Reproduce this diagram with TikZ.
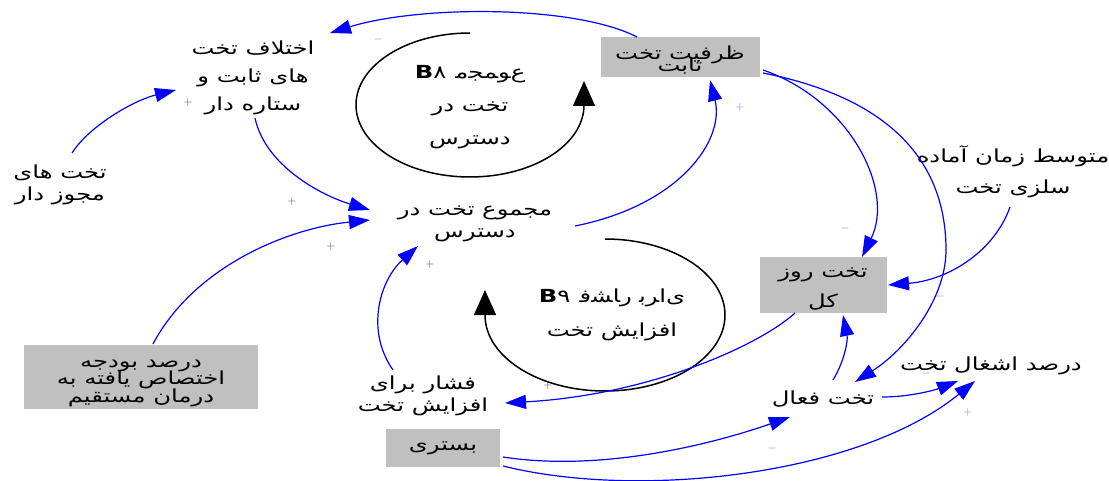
\documentclass[tikz,border=0pt]{standalone}
\usepackage{fontspec}
\usetikzlibrary{arrows.meta}
\newfontfamily\fafont[Script=Arabic, FakeStretch=1.35]{DejaVu Sans}
\TeXXeTstate=1
\lineskiplimit=-30pt
\newcommand{\rl}[1]{\beginR#1\endR}
\newcommand{\zj}{^^^^200d}
\definecolor{boxgray}{RGB}{192,192,192}
\definecolor{polgray}{RGB}{128,128,128}
\definecolor{polblue}{RGB}{120,120,255}

\begin{document}
\begin{tikzpicture}[x=1pt, y=-1pt,
  var/.style={font=\fafont\fontsize{18}{28}\selectfont, align=center, inner sep=0pt},
  gbox/.style={var, fill=boxgray},
  link/.style={blue, line width=1.2pt, -{Triangle[length=21pt, width=14pt]}},
  bigloop/.style={line width=1.5pt, -{Triangle[length=25pt, width=22pt]}},
  pol/.style={font=\fontsize{13}{13}\selectfont, inner sep=0pt}]
\useasboundingbox (0,0) rectangle (1109,481);

% variables
\node[var] (diff) at (253,78) {\rl{اختلاف تخت}\\\rl{های ثابت و}\\\rl{ستاره دار}};
\node[var, font=\fafont\fontsize{18}{22}\selectfont] (lic) at (60,185) {\rl{تخت های}\\\rl{مجوز دار}};
\node[var, font=\fafont\fontsize{18}{22}\selectfont] (total) at (475,224) {\rl{مجموع تخت در}\\\rl{دسترس}};
\node[gbox, minimum width=159pt, minimum height=40pt, text height=32pt, text depth=2pt,
  font=\fafont\fontsize{18}{12}\selectfont] (cap) at (680,57) {\rl{ظرفیت تخت}\\\rl{ثابت}};
\node[var, font=\fafont\fontsize{18}{31}\selectfont] (prep) at (1013,172) {\rl{متوسط زمان آماده}\\\rl{سلزی تخت}};
\node[gbox, minimum width=127pt, minimum height=56pt, text height=48pt, text depth=4pt,
  font=\fafont\fontsize{18}{30}\selectfont] (days) at (823,285) {\rl{تخت روز}\\\rl{کل}};
\node[gbox, minimum width=234pt, minimum height=64pt, text height=54pt, text depth=4pt,
  font=\fafont\fontsize{18}{17.5}\selectfont] (budget) at (141,377) {\rl{درصد بودجه}\\\rl{اختصاص یافته به}\\\rl{درمان مستقیم}};
\node[var, font=\fafont\fontsize{18}{22}\selectfont] (press) at (423,396) {\rl{فشار برای}\\\rl{افزایش تخت}};
\node[gbox, minimum width=114pt, minimum height=38pt] (inpat) at (443,448) {\rl{بستری}};
\node[var] (active) at (823,399) {\rl{تخت فعال}};
\node[var] (occ) at (991,366) {\rl{درصد اشغال تخت}};

% loops
\node[var, font=\fafont\fontsize{18}{33}\selectfont] (b8) at (470,107)
  {\mbox{\bfseries B}\mbox{۸}\hspace{0.5em}\mbox{م\zj}\mbox{\zj ج\zj}\mbox{\zj م\zj}\mbox{\zj و}\mbox{ع}\\\rl{تخت در}\\\rl{دسترس}};
\node[var, font=\fafont\fontsize{18}{34}\selectfont] (b9) at (612,315)
  {\mbox{\bfseries B}\mbox{۹}\hspace{0.5em}\mbox{ف\zj}\mbox{\zj ش\zj}\mbox{\zj ا}\mbox{ر}\hspace{0.4em}\mbox{ب\zj}\mbox{\zj ر}\mbox{ا}\mbox{ی}\\\rl{افزایش تخت}};
\draw[bigloop] (470,33) arc[start angle=90, end angle=360, x radius=114pt, y radius=72pt] -- ++(0,-24);
\draw[bigloop] (605,239) arc[start angle=90, end angle=-180, x radius=120pt, y radius=76pt] -- ++(0,-25);

% links
\draw[link] ([shift={(-43,-20)}]cap.center) .. controls (575,5) and (420,5) .. ([shift={(77,-45)}]diff.center);
\draw[link] ([shift={(12,-32)}]lic.center) .. controls (90,125) and (135,100) .. ([shift={(-77,12)}]diff.center);
\draw[link] ([shift={(2,40)}]diff.center) .. controls (265,165) and (320,195) .. ([shift={(-105,-14)}]total.center);
\draw[link] ([shift={(12,-33)}]budget.center) .. controls (195,265) and (290,228) .. ([shift={(-105,-4)}]total.center);
\draw[link] ([shift={(-30,-26)}]press.center) .. controls (365,330) and (380,280) .. ([shift={(-57,22)}]total.center);
\draw[link] ([shift={(100,2)}]total.center) .. controls (680,205) and (725,140) .. ([shift={(30,23)}]cap.center);
\draw[link] ([shift={(83,13)}]cap.center) .. controls (850,100) and (895,190) .. ([shift={(39,-28)}]days.center);
\draw[link] ([shift={(83,16)}]cap.center) .. controls (900,100) and (946,170) .. (946,250)
  .. controls (946,300) and (905,350) .. ([shift={(32,-17)}]active.center);
\draw[link] ([shift={(-3,35)}]prep.center) .. controls (995,250) and (950,280) .. ([shift={(65,0)}]days.center);
\draw[link] ([shift={(-28,28)}]days.center) .. controls (760,345) and (650,395) .. ([shift={(82,7)}]press.center);
\draw[link] ([shift={(10,-19)}]active.center) .. controls (845,360) and (848,340) .. ([shift={(20,30)}]days.center);
\draw[link] ([shift={(59,-2)}]active.center) .. controls (910,397) and (935,390) .. ([shift={(-33,15)}]occ.center);
\draw[link] ([shift={(60,9)}]inpat.center) .. controls (600,472) and (710,445) .. ([shift={(-33,18)}]active.center);
\draw[link] ([shift={(60,18)}]inpat.center) .. controls (640,500) and (860,475) .. ([shift={(-16,15)}]occ.center);

% polarities
\node[pol, polgray] (s1) at (378,40) {$-$};
\node[pol, black!70] (s2) at (188,103) {$+$};
\node[pol, black!70] (s3) at (292,202) {$+$};
\node[pol, black!70] (s4) at (331,247) {$+$};
\node[pol, black!70] (s5) at (430,265) {$+$};
\node[pol, black!70] (s6) at (548,385) {$+$};
\node[pol, polblue] (s7) at (740,108) {$+$};
\node[pol, polgray] (s8) at (845,229) {$-$};
\node[pol, polblue] (s9) at (940,296) {$-$};
\node[pol, polblue] (s10) at (926,373) {$-$};
\node[pol, polblue] (s11) at (772,448) {$-$};
\node[pol, polblue] (s12) at (968,412) {$+$};
\end{tikzpicture}
\end{document}
